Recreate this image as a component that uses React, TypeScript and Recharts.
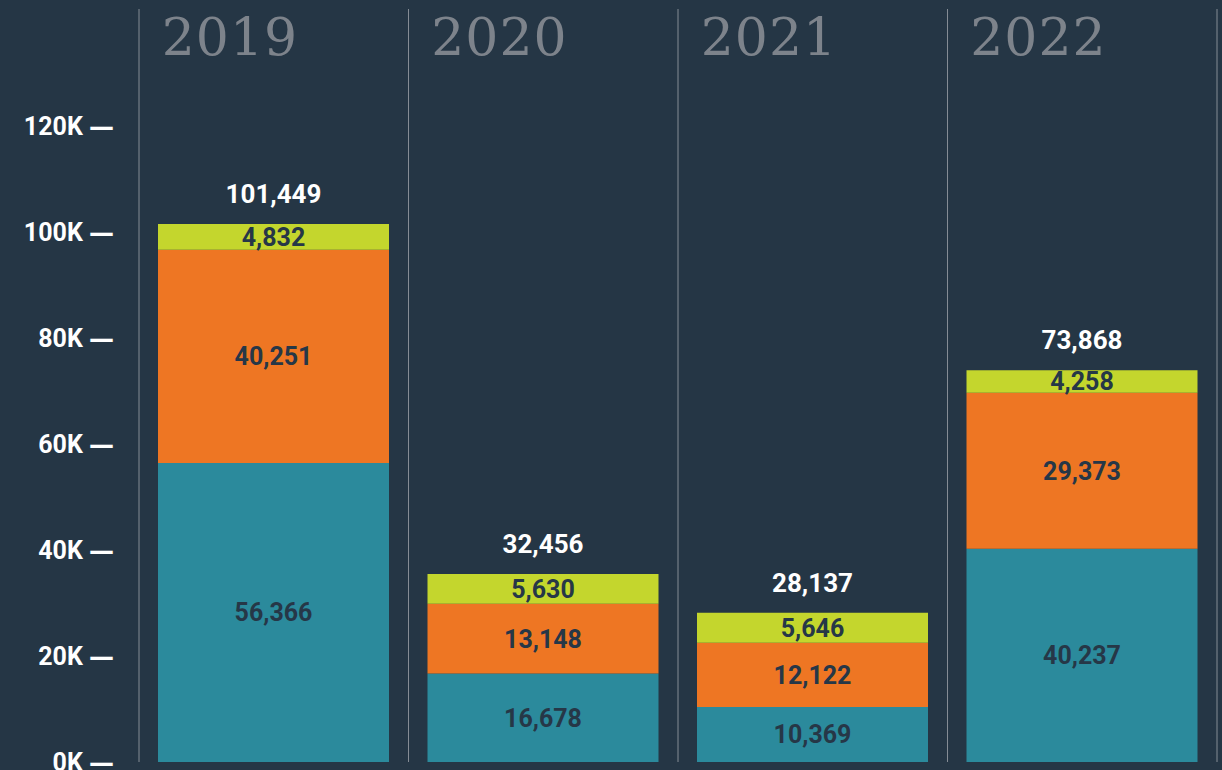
import { BarChart, Bar, XAxis, YAxis, CartesianGrid, LabelList } from 'recharts';

const years = ['2019', '2020', '2021', '2022'];
const tealValues = [56366, 16678, 10369, 40237];
const orangeValues = [40251, 13148, 12122, 29373];
const limeValues = [4832, 5630, 5646, 4258];
const totalLabels = [101449, 32456, 28137, 73868];
const yTicks = [0, 20000, 40000, 60000, 80000, 100000, 120000];

const BG = '#253645';
const TEAL = '#2b8a9c';
const ORANGE = '#ee7623';
const LIME = '#c4d62d';
const DARK_TEXT = '#263747';
const SANS = 'Roboto, "Noto Sans", sans-serif';

const data = years.map((year, i) => ({
  year,
  teal: tealValues[i],
  orange: orangeValues[i],
  lime: limeValues[i],
  total: totalLabels[i],
}));

const fmt = (v: any) => Number(v).toLocaleString('en-US');

function YearTick(props: any) {
  const { x, y, payload } = props;
  return (
    <text
      x={x - 112}
      y={y + 46}
      fill="#7d838b"
      fontFamily='"DejaVu Serif", "Liberation Serif", serif'
      fontSize={52}
      letterSpacing={1}
      textAnchor="start"
    >
      {payload.value}
    </text>
  );
}

function ValueTick(props: any) {
  const { x, y, payload } = props;
  return (
    <text
      x={x}
      y={y}
      dy="0.36em"
      fill="#ffffff"
      fontSize={25}
      fontWeight={700}
      fontFamily={SANS}
      textAnchor="end"
    >
      {`${payload.value / 1000}K `}
      <tspan fontFamily='"DejaVu Sans", sans-serif' fontWeight={700}>
        —
      </tspan>
    </text>
  );
}

export default function App() {
  return (
    <div style={{ position: 'fixed', left: 0, top: 0, width: 1222, height: 770, background: BG }}>
      <BarChart
        width={1222}
        height={770}
        data={data}
        margin={{ top: 8, right: 5, bottom: 8, left: 0 }}
      >
        <CartesianGrid
          horizontal={false}
          stroke="#858c95"
          strokeWidth={1}
          verticalCoordinatesGenerator={({ offset }: any) =>
            [0, 1, 2, 3, 4].map((i) => offset.left + (i * offset.width) / 4)
          }
        />
        <XAxis
          dataKey="year"
          orientation="top"
          height={1}
          interval={0}
          axisLine={false}
          tickLine={false}
          tickSize={0}
          tickMargin={0}
          tick={<YearTick />}
        />
        <YAxis
          width={139}
          domain={[0, 142000]}
          ticks={yTicks}
          interval={0}
          axisLine={false}
          tickLine={false}
          tickSize={0}
          tickMargin={25}
          tick={<ValueTick />}
        />
        <Bar dataKey="teal" stackId="a" fill={TEAL} barSize={231} isAnimationActive={false}>
          <LabelList
            dataKey="teal"
            position="center"
            formatter={fmt}
            fill={DARK_TEXT}
            fontSize={25}
            fontWeight={700}
            fontFamily={SANS}
          />
        </Bar>
        <Bar dataKey="orange" stackId="a" fill={ORANGE} barSize={231} isAnimationActive={false}>
          <LabelList
            dataKey="orange"
            position="center"
            formatter={fmt}
            fill={DARK_TEXT}
            fontSize={25}
            fontWeight={700}
            fontFamily={SANS}
          />
        </Bar>
        <Bar dataKey="lime" stackId="a" fill={LIME} barSize={231} isAnimationActive={false}>
          <LabelList
            dataKey="lime"
            position="center"
            formatter={fmt}
            fill={DARK_TEXT}
            fontSize={25}
            fontWeight={700}
            fontFamily={SANS}
          />
          <LabelList
            dataKey="total"
            position="top"
            offset={21}
            formatter={fmt}
            fill="#ffffff"
            fontSize={26}
            fontWeight={700}
            fontFamily={SANS}
          />
        </Bar>
      </BarChart>
    </div>
  );
}
